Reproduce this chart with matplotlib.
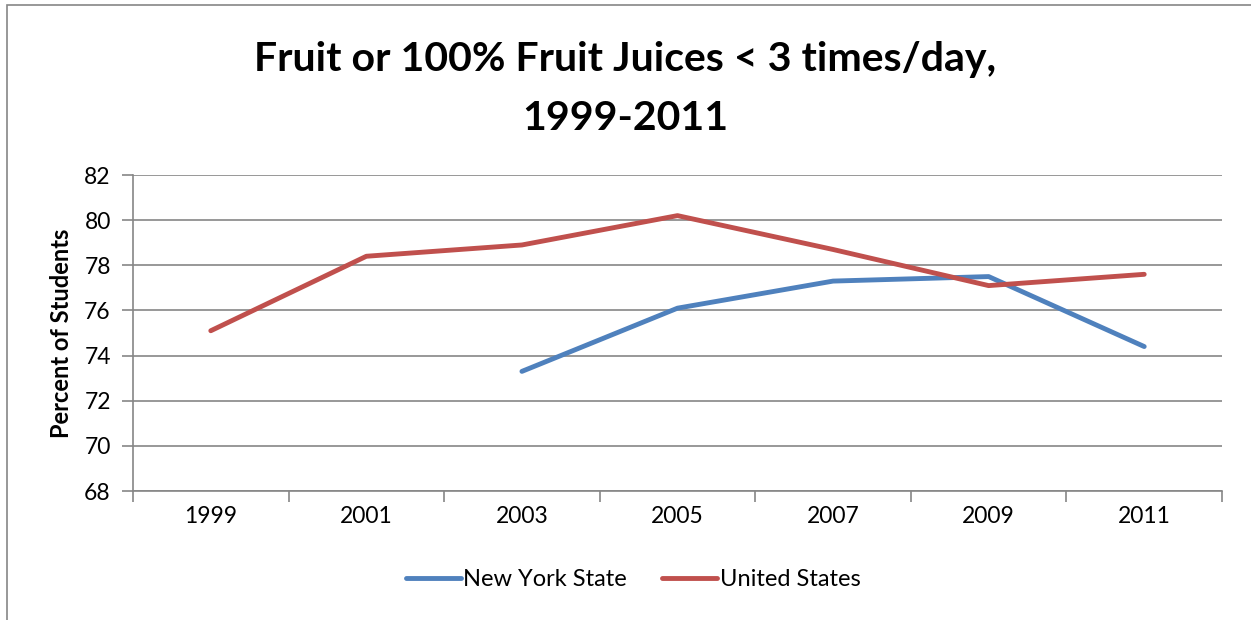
import matplotlib
matplotlib.use("Agg")
import matplotlib.pyplot as plt
from matplotlib.patches import Rectangle
import numpy as np

years = ["1999", "2001", "2003", "2005", "2007", "2009", "2011"]
ny_values = [np.nan, np.nan, 73.3, 76.1, 77.3, 77.5, 74.4]
us_values = [75.1, 78.4, 78.9, 80.2, 78.7, 77.1, 77.6]
y_ticks = [68, 70, 72, 74, 76, 78, 80, 82]

plt.rcParams['font.family'] = ['Lato', 'DejaVu Sans']

fig = plt.figure(figsize=(12.51, 6.2), dpi=100)
fig.patches.append(Rectangle((7/1251, -0.01), 1.2, 1 - 5/620 + 0.01, transform=fig.transFigure,
                             fill=False, edgecolor='#868686', linewidth=1.2))
ax = fig.add_axes([133/1251, 1 - 491/620, (1222 - 133)/1251, (491 - 175)/620])

x = np.arange(len(years))
ax.plot(x, ny_values, color='#4F81BD', linewidth=3.5, solid_capstyle='round', label='New York State')
ax.plot(x, us_values, color='#C0504D', linewidth=3.5, solid_capstyle='round', label='United States')

ax.set_xlim(-0.5, len(years) - 0.5)
ax.set_ylim(68, 82)
ax.set_yticks(y_ticks)
ax.yaxis.grid(True, color='#868686', linewidth=1.2)
ax.set_axisbelow(True)
for s in ['top', 'right']:
    ax.spines[s].set_visible(False)
for s in ['left', 'bottom']:
    ax.spines[s].set_color('#868686')
    ax.spines[s].set_linewidth(1.2)

ax.set_xticks(np.arange(-0.5, len(years), 1.0))
ax.set_xticklabels([])
ax.set_xticks(x, minor=True)
ax.set_xticklabels(years, minor=True)
ax.tick_params(axis='x', which='major', length=8, color='#868686', width=1.2, direction='out')
ax.tick_params(axis='x', which='minor', length=0, labelsize=16.5, pad=11)
ax.tick_params(axis='y', length=8, color='#868686', width=1.2, labelsize=16.5, pad=8)

ax.set_ylabel('Percent of Students', fontsize=17, fontweight='bold', labelpad=8)

fig.text(0.5, 1 - 60/620, 'Fruit or 100% Fruit Juices < 3 times/day,', ha='center', va='center',
         fontsize=29.5, fontweight='bold')
fig.text(0.5, 1 - 118/620, '1999-2011', ha='center', va='center', fontsize=29.5, fontweight='bold')

leg = fig.legend(loc='center', bbox_to_anchor=(633/1251, 1 - 580/620), ncol=2, frameon=False,
                 fontsize=17, handlelength=2.33, handletextpad=0.1, columnspacing=1.5)

fig.savefig('out.png', dpi=100)
